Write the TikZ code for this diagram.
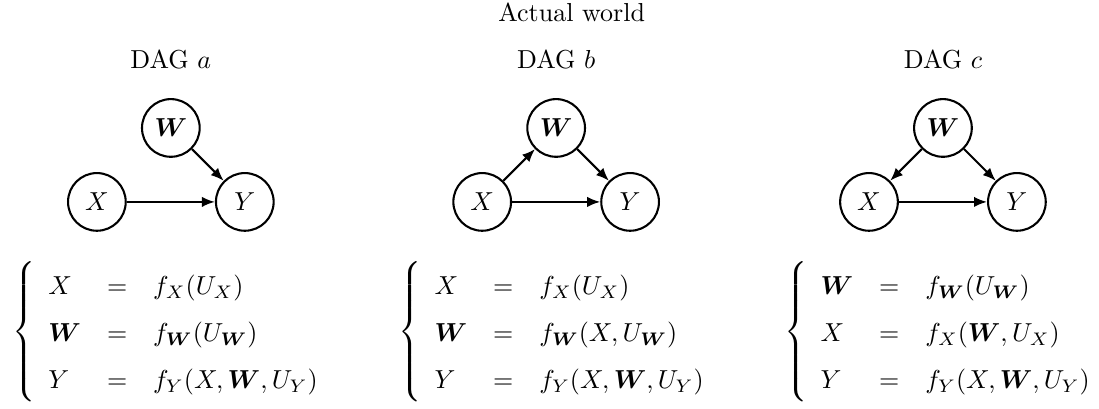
\documentclass[tikz,border=0pt]{standalone}
\usepackage{amsmath,amssymb,bm}
\usepackage{tikz}
\usetikzlibrary{arrows.meta,positioning,calc}
\renewcommand{\arraystretch}{1.5}

\begin{document}
\begin{tikzpicture}[
    var/.style={circle,draw,thick,minimum size=0.78cm,inner sep=0pt},
    edge/.style={-{Latex[length=5pt,width=4pt]},thick},
    sys/.style={anchor=west,inner sep=0pt},
    on grid]
  \useasboundingbox (0,0) rectangle (14.86,-5.53);
  \node (world) at (7.73,-0.17) {Actual world};

  % DAG a
  \node[var] (Xa) at (1.31,-2.73) {$X$};
  \node[var,above right=1cm and 1cm of Xa] (Wa) {$\bm{W}$};
  \node[var,right=2cm of Xa] (Ya) {$Y$};
  \node[above=0.92cm of Wa] (titlea) {DAG $a$};
  \draw[edge] (Wa) -- (Ya);
  \draw[edge] (Xa) -- (Ya);
  \node[sys] (sysa) at (0.16,-4.49) {$\left\{\begin{array}{lcl}
      X & = & f_X(U_X)\\
      \bm{W} & = & f_{\bm{W}}(U_{\bm{W}})\\
      Y & = & f_Y(X,\bm{W},U_Y)
    \end{array}\right.$};

  % DAG b
  \node[var] (Xb) at (6.52,-2.73) {$X$};
  \node[var,above right=1cm and 1cm of Xb] (Wb) {$\bm{W}$};
  \node[var,right=2cm of Xb] (Yb) {$Y$};
  \node[above=0.92cm of Wb] (titleb) {DAG $b$};
  \draw[edge] (Xb) -- (Wb);
  \draw[edge] (Wb) -- (Yb);
  \draw[edge] (Xb) -- (Yb);
  \node[sys] (sysb) at (5.38,-4.49) {$\left\{\begin{array}{lcl}
      X & = & f_X(U_X)\\
      \bm{W} & = & f_{\bm{W}}(X,U_{\bm{W}})\\
      Y & = & f_Y(X,\bm{W},U_Y)
    \end{array}\right.$};

  % DAG c
  \node[var] (Xc) at (11.75,-2.73) {$X$};
  \node[var,above right=1cm and 1cm of Xc] (Wc) {$\bm{W}$};
  \node[var,right=2cm of Xc] (Yc) {$Y$};
  \node[above=0.92cm of Wc] (titlec) {DAG $c$};
  \draw[edge] (Wc) -- (Xc);
  \draw[edge] (Wc) -- (Yc);
  \draw[edge] (Xc) -- (Yc);
  \node[sys] (sysc) at (10.60,-4.49) {$\left\{\begin{array}{lcl}
      \bm{W} & = & f_{\bm{W}}(U_{\bm{W}})\\
      X & = & f_X(\bm{W},U_X)\\
      Y & = & f_Y(X,\bm{W},U_Y)
    \end{array}\right.$};
\end{tikzpicture}
\end{document}
